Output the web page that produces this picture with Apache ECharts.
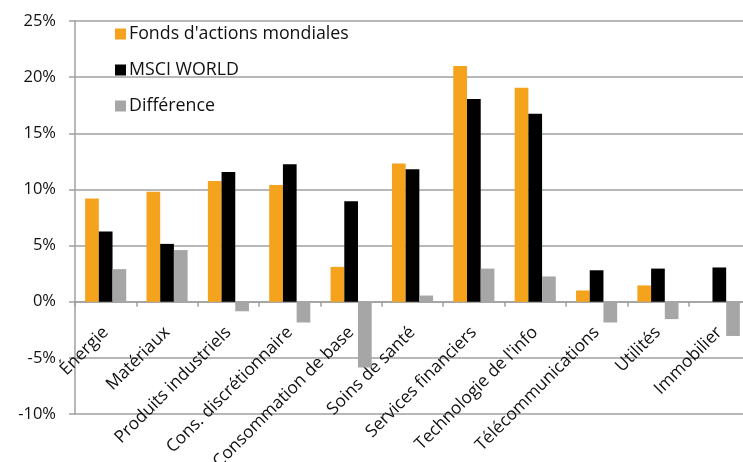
<!DOCTYPE html>
<html>
<head>
<meta charset="utf-8">
<script src="https://cdn.jsdelivr.net/npm/echarts@6/dist/echarts.min.js"></script>
<style>html,body{margin:0;padding:0;background:#fff;}#c{width:743px;height:462px;}</style>
</head>
<body>
<div id="c"></div>
<script>
const categories = ["Énergie","Matériaux","Produits industriels","Cons. discrétionnaire","Consommation de base","Soins de santé","Services financiers","Technologie de l'info","Télécommunications","Utilités","Immobilier"];
const fonds = [9.2, 9.8, 10.75, 10.4, 3.1, 12.3, 21.0, 19.05, 1.0, 1.45, 0];
const msci = [6.25, 5.15, 11.55, 12.25, 8.95, 11.8, 18.05, 16.75, 2.8, 2.95, 3.05];
const diff = [2.9, 4.6, -0.85, -1.85, -5.85, 0.55, 2.95, 2.25, -1.85, -1.55, -3.05];
const yTicks = [-10, -5, 0, 5, 10, 15, 20, 25];

const gridTop = 21, gridBottomY = 414;
const yMin = yTicks[0], yMax = yTicks[yTicks.length-1];
const zeroOffset = -(0 - yMin) / (yMax - yMin) * (gridBottomY - gridTop);

const chart = echarts.init(document.getElementById('c'));
const font = "'Open Sans', sans-serif";
chart.setOption({
  animation: false,
  textStyle: {fontFamily: font},
  grid: {left: 75, right: -7, top: gridTop, bottom: 462 - gridBottomY, containLabel: false, outerBoundsMode: 'none'},
  legend: {
    orient: 'vertical', left: 110, top: 20, itemWidth: 11, itemHeight: 11, itemGap: 18,
    icon: 'rect',
    textStyle: {fontSize: 17.8, color: '#111', fontFamily: font, padding: [0,0,0,-2]},
    data: ["Fonds d'actions mondiales", "MSCI WORLD", "Différence"]
  },
  xAxis: {
    type: 'category', data: categories, position: 'bottom', offset: zeroOffset,
    axisLine: {onZero: false, lineStyle: {color: '#a0a0a0', width: 1.5}},
    axisTick: {show: true, alignWithLabel: false, length: 5, lineStyle: {color: '#a0a0a0', width: 1.5}},
    axisLabel: {rotate: 45, interval: 0, fontSize: 17.3, color: '#111', margin: 28, fontFamily: font}
  },
  yAxis: {
    type: 'value', min: yMin, max: yMax, interval: 5,
    axisLine: {show: true, lineStyle: {color: '#a0a0a0', width: 1.5}},
    axisTick: {show: true, length: 6, lineStyle: {color: '#a0a0a0', width: 1.5}},
    axisLabel: {formatter: v => v + '%', fontSize: 16.5, color: '#111', margin: 19, fontFamily: font},
    splitLine: {lineStyle: {color: '#a0a0a0', width: 1.5}}
  },
  series: [
    {name: "Fonds d'actions mondiales", type: 'bar', data: fonds, itemStyle: {color: '#F5A31D'}, barGap: '0%', barCategoryGap: '33%'},
    {name: "MSCI WORLD", type: 'bar', data: msci, itemStyle: {color: '#000000'}},
    {name: "Différence", type: 'bar', data: diff, itemStyle: {color: '#A6A6A6'}}
  ]
});
</script>
</body>
</html>
